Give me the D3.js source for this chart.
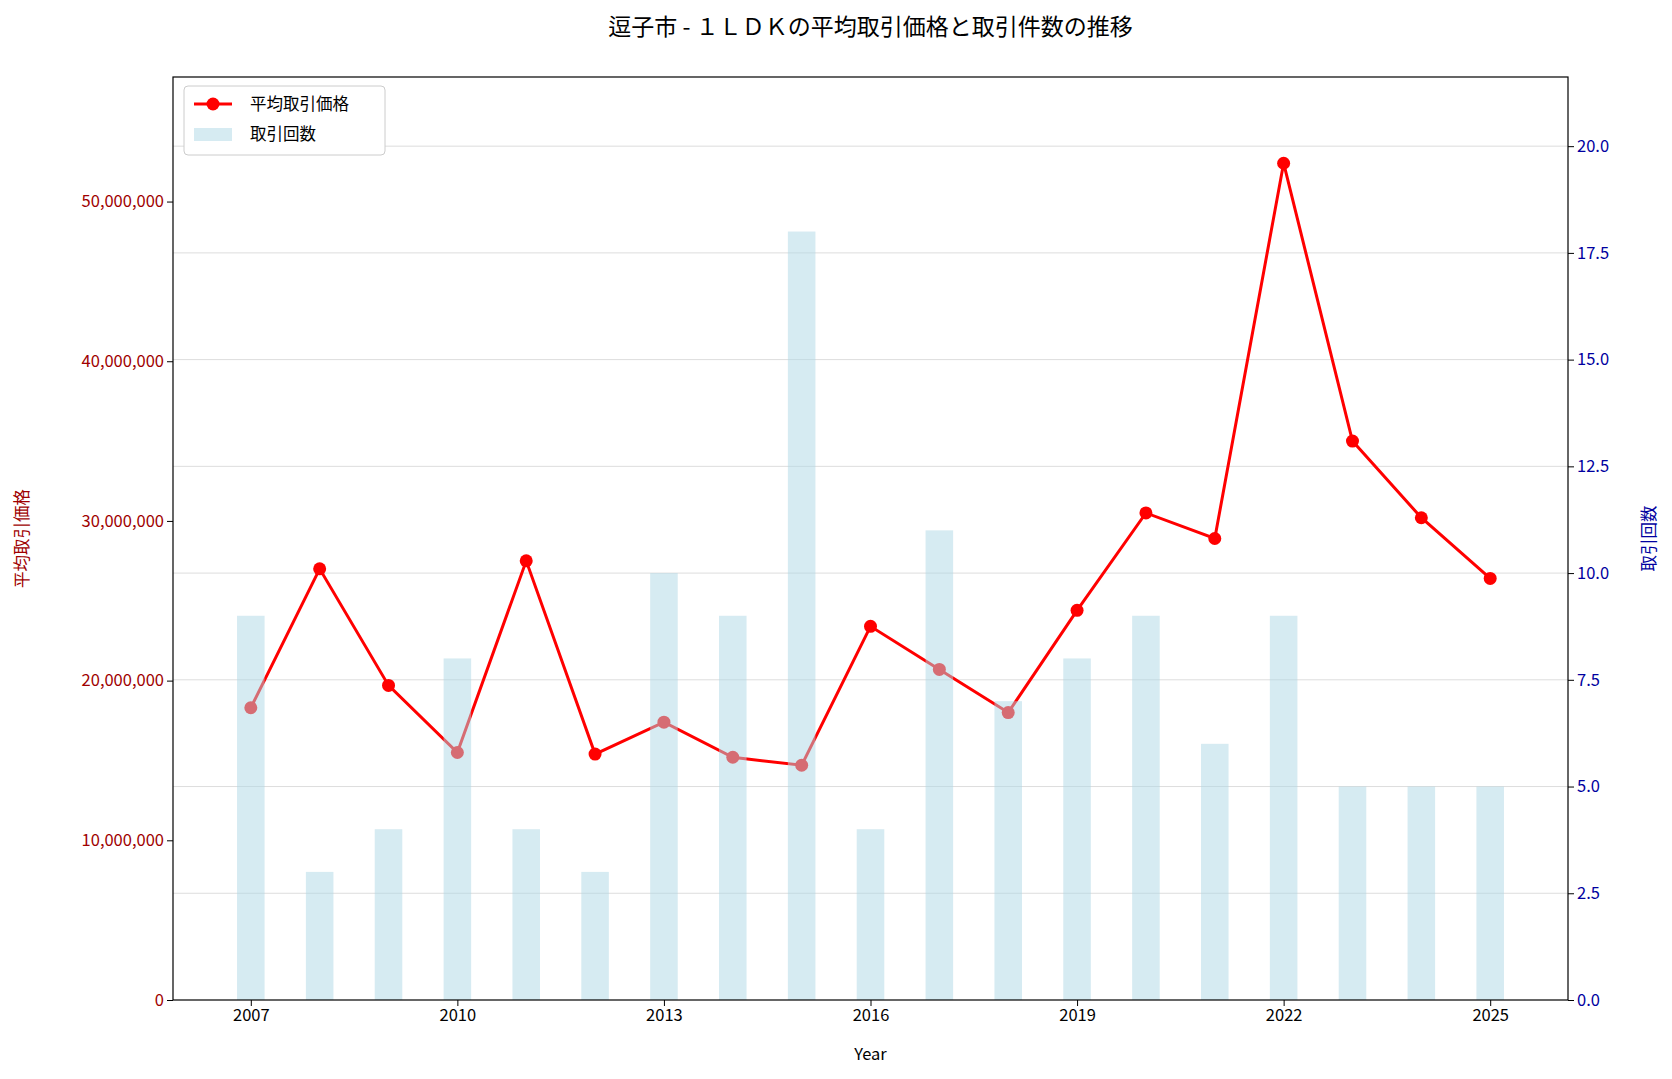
<!DOCTYPE html>
<html><head><meta charset="utf-8">
<script src="https://cdn.jsdelivr.net/npm/d3@7"></script>
<style>body{margin:0;background:#fff}text{font-family:"Noto Sans CJK JP","Noto Sans",sans-serif}</style>
</head><body><svg id="c" width="1672" height="1079"></svg>
<script>
const years=[2007,2008,2009,2010,2011,2012,2013,2014,2015,2016,2017,2018,2019,2020,2021,2022,2023,2024,2025];
const prices=[18300000,27000000,19700000,15500000,27500000,15400000,17400000,15200000,14700000,23400000,20700000,18000000,24400000,30500000,28900000,52400000,35000000,30200000,26400000];
const counts=[9,3,4,8,4,3,10,9,18,4,11,7,8,9,6,9,5,5,5];
const xTicks=[2007,2010,2013,2016,2019,2022,2025];
const L=173,R=1568,T=77,B=1000;
const svg=d3.select("#c");
const x=d3.scaleLinear().domain([2005.87,2026.13]).range([L,R]);
const yL=d3.scaleLinear().domain([0,57.8e6]).range([B,T]);
const yR=d3.scaleLinear().domain([0,21.62]).range([B,T]);
svg.append("g").selectAll("line").data(d3.range(2.5,21,2.5)).join("line")
 .attr("x1",L).attr("x2",R).attr("y1",d=>yR(d)).attr("y2",d=>yR(d)).attr("stroke","#ddd").attr("stroke-width",1);
svg.append("path").datum(years.map((y,i)=>[y,prices[i]])).attr("fill","none").attr("stroke","red").attr("stroke-width",3)
 .attr("d",d3.line().x(d=>x(d[0])).y(d=>yL(d[1])));
svg.append("g").selectAll("circle").data(years).join("circle").attr("cx",d=>x(d)).attr("cy",(d,i)=>yL(prices[i])).attr("r",6.5).attr("fill","red");
const bw=x(2007.2)-x(2006.8);
svg.append("g").selectAll("rect").data(years).join("rect").attr("x",d=>x(d)-bw/2).attr("width",bw)
 .attr("y",(d,i)=>yR(counts[i])).attr("height",(d,i)=>B-yR(counts[i])).attr("fill","lightblue").attr("opacity",0.5);
const fmt=d3.format(",");
const ax=svg.append("g").attr("transform",`translate(0,${B})`).call(d3.axisBottom(x).tickValues(xTicks).tickFormat(d3.format("d")).tickSizeOuter(0));
const al=svg.append("g").attr("transform",`translate(${L},0)`).call(d3.axisLeft(yL).tickValues(d3.range(0,5.1e7,1e7)).tickFormat(fmt).tickSizeOuter(0));
const ar=svg.append("g").attr("transform",`translate(${R},0)`).call(d3.axisRight(yR).tickValues(d3.range(0,21,2.5)).tickFormat(d3.format(".1f")).tickSizeOuter(0));
[ax,al,ar].forEach(g=>{g.selectAll("text").attr("font-size",16.5);g.select(".domain").remove();g.selectAll("line").attr("stroke","#000");});
ax.selectAll("text").attr("fill","#000");al.selectAll("text").attr("fill","#a00000");ar.selectAll("text").attr("fill","#0000a0");
svg.append("rect").attr("x",L).attr("y",T).attr("width",R-L).attr("height",B-T).attr("fill","none").attr("stroke","#000").attr("stroke-width",1.2);
svg.append("text").attr("x",(L+R)/2).attr("y",1060).attr("text-anchor","middle").attr("font-size",16.5).text("Year");
svg.append("text").attr("transform",`translate(28,${(T+B)/2}) rotate(-90)`).attr("text-anchor","middle").attr("font-size",16.5).attr("fill","#a00000").text("平均取引価格");
svg.append("text").attr("transform",`translate(1655,${(T+B)/2}) rotate(-90)`).attr("text-anchor","middle").attr("font-size",16.5).attr("fill","#0000a0").text("取引回数");
svg.append("text").attr("x",(L+R)/2).attr("y",35).attr("text-anchor","middle").attr("font-size",23).text("逗子市 - １ＬＤＫの平均取引価格と取引件数の推移");
const lg=svg.append("g").attr("transform",`translate(${L+11},${T+9})`);
lg.append("rect").attr("width",201).attr("height",69).attr("rx",4).attr("fill","#fff").attr("stroke","#ccc");
lg.append("line").attr("x1",10).attr("x2",48).attr("y1",18).attr("y2",18).attr("stroke","red").attr("stroke-width",3);
lg.append("circle").attr("cx",29).attr("cy",18).attr("r",6.5).attr("fill","red");
lg.append("text").attr("x",66).attr("y",24).attr("font-size",16.5).text("平均取引価格");
lg.append("rect").attr("x",10).attr("y",42).attr("width",38).attr("height",13).attr("fill","lightblue").attr("opacity",0.5);
lg.append("text").attr("x",66).attr("y",54).attr("font-size",16.5).text("取引回数");
</script></body></html>
